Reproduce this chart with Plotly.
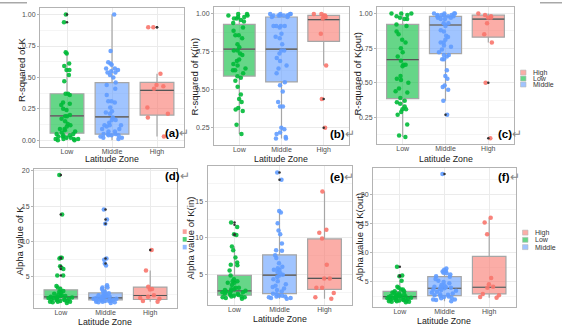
import plotly.graph_objects as go

W, H = 562, 332
categories = ["Low", "Middle", "High"]
legend_labels = ["High", "Low", "Middle"]
x_title = "Latitude Zone"
y_titles = ["R-squared of K", "R-squared of K(in)", "R-squared of K(out)",
            "Alpha value of K", "Alpha value of K(in)", "Alpha value of K(out)"]
panel_tags = ["(a)", "(b)", "(c)", "(d)", "(e)", "(f)"]

# ---------------- (a) R-squared of K ----------------
a_low = [1.00, 0.94, 0.70, 0.69, 0.61, 0.59, 0.56, 0.56, 0.52, 0.47, 0.37, 0.37, 0.36, 0.30, 0.29,
         0.28, 0.25, 0.24, 0.20, 0.19, 0.19, 0.17, 0.15, 0.13, 0.12, 0.09, 0.09, 0.08, 0.07, 0.06,
         0.05, 0.05, 0.04, 0.03, 0.03, 0.02, 0.02, 0.01, 0.01, 0.01, 0.00, 0.00, 0.01, 0.04, 0.11]
a_mid = [1.00, 0.71, 0.62, 0.61, 0.60, 0.57, 0.57, 0.56, 0.55, 0.54, 0.54, 0.52, 0.50, 0.46, 0.44,
         0.41, 0.36, 0.31, 0.31, 0.30, 0.26, 0.23, 0.22, 0.21, 0.18, 0.16, 0.16, 0.14, 0.12, 0.12,
         0.12, 0.11, 0.09, 0.09, 0.07, 0.07, 0.05, 0.05, 0.05, 0.04, 0.04, 0.04, 0.03, 0.02, 0.02, 0.01]
a_high = [0.90, 0.90, 0.53, 0.44, 0.43, 0.41, 0.26, 0.21, 0.18, 0.03]
a_q1 = [0.056, 0.048, 0.200]
a_med = [0.193, 0.185, 0.397]
a_q3 = [0.370, 0.458, 0.460]
a_lo = [0.00, 0.00, 0.03]
a_hi = [0.70, 1.00, 0.53]
a_out = [[1.00, 0.94], [], [0.90, 0.90]]

# ---------------- (b) R-squared of K(in) ----------------
b_low = [1.00, 1.00, 0.99, 0.99, 0.98, 0.98, 0.97, 0.97, 0.96, 0.95, 0.94, 0.91, 0.89, 0.86, 0.86,
         0.84, 0.80, 0.78, 0.76, 0.76, 0.74, 0.73, 0.70, 0.69, 0.67, 0.66, 0.64, 0.63, 0.63, 0.61,
         0.59, 0.58, 0.56, 0.52, 0.47, 0.44, 0.42, 0.38, 0.37, 0.36, 0.27, 0.21]
b_mid = [1.00, 1.00, 1.00, 0.99, 0.99, 0.99, 0.99, 0.99, 1.00, 0.99, 0.98, 0.98, 0.92, 0.92, 0.92,
         0.92, 0.91, 0.87, 0.85, 0.84, 0.80, 0.76, 0.76, 0.74, 0.71, 0.69, 0.66, 0.64, 0.61, 0.55,
         0.53, 0.49, 0.42, 0.39, 0.39, 0.25, 0.24, 0.22, 0.21, 0.19, 0.18, 0.18]
b_high = [1.00, 1.00, 0.99, 0.99, 0.98, 0.97, 0.87, 0.66, 0.44, 0.25]
b_q1 = [0.591, 0.552, 0.820]
b_med = [0.768, 0.768, 0.963]
b_q3 = [0.932, 0.980, 0.991]
b_lo = [0.21, 0.18, 0.66]
b_hi = [1.00, 1.00, 1.00]
b_out = [[], [], [0.44, 0.25]]

# ---------------- (c) R-squared of K(out) ----------------
c_low = [1.00, 1.00, 1.00, 0.99, 0.98, 0.97, 0.96, 0.96, 0.92, 0.91, 0.87, 0.85, 0.81, 0.79, 0.75,
         0.72, 0.69, 0.66, 0.63, 0.63, 0.62, 0.55, 0.53, 0.52, 0.50, 0.46, 0.44, 0.43, 0.39, 0.37,
         0.36, 0.35, 0.33, 0.31, 0.31, 0.29, 0.27, 0.20, 0.12, 0.11]
c_mid = [1.00, 1.00, 1.00, 1.00, 0.99, 0.99, 0.99, 0.99, 0.98, 0.98, 0.98, 0.97, 0.97, 0.96, 0.96,
         0.93, 0.93, 0.91, 0.88, 0.87, 0.84, 0.83, 0.81, 0.79, 0.79, 0.77, 0.76, 0.74, 0.72, 0.70,
         0.70, 0.69, 0.67, 0.67, 0.59, 0.55, 0.53, 0.48, 0.47, 0.45, 0.37, 0.27]
c_high = [1.00, 0.99, 0.98, 0.97, 0.97, 0.93, 0.85, 0.79, 0.50, 0.10]
c_q1 = [0.386, 0.710, 0.829]
c_med = [0.667, 0.917, 0.960]
c_q3 = [0.921, 0.979, 0.988]
c_lo = [0.11, 0.37, 0.79]
c_hi = [1.00, 1.00, 1.00]
c_out = [[], [0.27], [0.50, 0.10]]

# ---------------- (d) Alpha value of K ----------------
d_low = [19.4, 13.8, 7.7, 7.7, 7.6, 6.5, 6.3, 6.1, 5.2, 5.2, 3.7, 3.5, 3.3, 2.9, 2.8, 2.6, 2.5,
         2.3, 2.3, 2.2, 2.1, 2.1, 2.0, 1.9, 1.9, 1.8, 1.7, 1.6, 1.6, 1.5, 1.5, 1.4, 1.3, 2.0, 2.4,
         1.8, 1.7, 2.2, 3.0, 1.5]
d_mid = [14.5, 13.1, 12.5, 7.6, 7.4, 6.9, 6.6, 3.8, 3.5, 3.5, 3.3, 3.0, 2.7, 2.5, 2.3, 2.3, 2.2,
         2.0, 2.0, 1.9, 1.8, 1.8, 1.7, 1.6, 1.6, 1.5, 1.4, 1.4, 1.9, 2.1, 1.7, 2.4, 1.5, 1.6, 2.6,
         1.8, 2.9, 1.3, 2.2, 1.9]
d_high = [8.8, 5.9, 3.6, 3.3, 3.2, 2.4, 2.2, 2.0, 1.9, 1.6, 1.5]
d_q1 = [1.90, 1.76, 1.80]
d_med = [2.18, 2.04, 2.37]
d_q3 = [3.17, 2.75, 3.55]
d_lo = [1.3, 1.3, 1.5]
d_hi = [3.7, 3.8, 5.9]
d_out = [[19.4, 13.8, 7.7, 7.6, 6.5, 6.1, 5.2], [14.5, 13.1, 12.5, 7.6, 6.9], [8.8]]

# ---------------- (e) Alpha value of K(in) ----------------
e_low = [12.1, 11.5, 10.5, 10.4, 8.8, 8.3, 7.3, 6.6, 6.3, 6.2, 5.5, 4.8, 4.3, 4.0, 4.0, 3.8, 3.8,
         3.5, 3.1, 3.1, 2.9, 2.9, 2.7, 2.7, 2.5, 2.5, 2.3, 2.3, 2.1, 2.1, 1.9, 1.9, 1.8, 1.8, 1.6,
         2.6, 2.0, 1.7, 2.4, 2.8]
e_mid = [19.0, 18.0, 13.7, 13.5, 12.0, 11.0, 10.5, 9.2, 8.3, 8.2, 7.2, 6.5, 6.0, 5.6, 5.6, 5.3,
         5.1, 4.9, 4.6, 4.3, 4.0, 3.6, 3.4, 3.2, 3.0, 2.8, 2.6, 2.3, 2.0, 2.0, 1.9, 1.9, 1.8, 1.7,
         1.7, 1.6, 5.8, 4.8, 2.2, 7.6]
e_high = [16.4, 11.1, 10.7, 9.9, 6.3, 4.4, 4.4, 3.1, 3.1, 2.4, 1.8, 1.6]
e_q1 = [2.08, 2.31, 2.90]
e_med = [2.67, 4.86, 4.40]
e_q3 = [4.82, 7.65, 9.84]
e_lo = [1.6, 1.6, 1.6]
e_hi = [8.8, 13.7, 16.4]
e_out = [[12.1, 11.8, 10.5, 10.4], [19.0, 18.0], []]

# ---------------- (f) Alpha value of K(out) ----------------
f_low = [7.6, 6.1, 6.0, 5.2, 4.2, 4.0, 3.7, 3.7, 3.4, 3.4, 3.0, 3.2, 2.9, 2.8, 2.7, 2.6, 2.6,
         2.5, 2.5, 2.4, 2.4, 2.3, 2.3, 2.2, 2.2, 2.1, 2.1, 2.0, 2.0, 1.9, 1.9, 1.8, 1.8, 1.7,
         1.7, 1.6, 1.6, 1.5, 2.5, 3.1]
f_mid = [23.5, 7.3, 7.1, 6.9, 6.6, 6.3, 6.0, 5.5, 5.2, 4.8, 4.5, 4.2, 4.2, 3.8, 3.5, 3.2, 2.9,
         2.6, 2.3, 2.0, 2.0, 1.7, 3.9, 4.0, 3.6, 2.8, 2.5, 5.9, 6.5, 3.3, 2.7, 4.4, 1.9, 2.2,
         3.0, 5.0, 3.7, 2.4, 6.8, 4.1]
f_high = [16.0, 15.2, 13.2, 5.7, 4.6, 4.2, 4.0, 2.95, 2.7, 2.4, 2.3]
f_q1 = [2.10, 2.67, 2.95]
f_med = [2.50, 3.92, 4.09]
f_q3 = [3.40, 5.90, 9.40]
f_lo = [1.5, 1.7, 2.3]
f_hi = [5.2, 7.3, 16.0]
f_out = [[7.6, 6.1, 6.0], [23.5], []]

# axis ticks / ranges
rsq_ticks = [0.00, 0.25, 0.50, 0.75, 1.00]
alpha_ticks = [5, 10, 15, 20]

panels = [
    dict(pts=[a_low, a_mid, a_high], q1=a_q1, med=a_med, q3=a_q3, lo=a_lo, hi=a_hi, out=a_out,
         yr=[-0.055, 1.053], ticks=rsq_ticks, fmt=".2f", minor=0.125,
         box=(40, 184, 6, 146)),
    dict(pts=[b_low, b_mid, b_high], q1=b_q1, med=b_med, q3=b_q3, lo=b_lo, hi=b_hi, out=b_out,
         yr=[0.136, 1.046], ticks=rsq_ticks, fmt=".2f", minor=0.125,
         box=(214, 349, 5, 144)),
    dict(pts=[c_low, c_mid, c_high], q1=c_q1, med=c_med, q3=c_q3, lo=c_lo, hi=c_hi, out=c_out,
         yr=[0.058, 1.047], ticks=rsq_ticks, fmt=".2f", minor=0.125,
         box=(377, 514, 5, 143)),
    dict(pts=[d_low, d_mid, d_high], q1=d_q1, med=d_med, q3=d_q3, lo=d_lo, hi=d_hi, out=d_out,
         yr=[0.58, 20.24], ticks=alpha_ticks, fmt="d", minor=2.5,
         box=(34, 177, 168, 308)),
    dict(pts=[e_low, e_mid, e_high], q1=e_q1, med=e_med, q3=e_q3, lo=e_lo, hi=e_hi, out=e_out,
         yr=[0.71, 19.9], ticks=alpha_ticks, fmt="d", minor=2.5,
         box=(207.5, 351.5, 165, 305)),
    dict(pts=[f_low, f_mid, f_high], q1=f_q1, med=f_med, q3=f_q3, lo=f_lo, hi=f_hi, out=f_out,
         yr=[0.68, 24.55], ticks=alpha_ticks, fmt="d", minor=2.5,
         box=(373, 516, 167, 307)),
]

point_col = {"Low": "#00BA38", "Middle": "#619CFF", "High": "#F8766D"}
fill_col = {"Low": "rgba(0,186,56,0.6)", "Middle": "rgba(97,156,255,0.6)", "High": "rgba(248,118,109,0.6)"}

def px(x):
    return x / W

def py(y):
    return 1 - y / H

fig = go.Figure()
layout = dict(width=W, height=H, margin=dict(l=0, r=0, t=0, b=0),
              paper_bgcolor="white", plot_bgcolor="white", showlegend=False,
              boxmode="overlay", font=dict(family="Liberation Sans", color="#4d4d4d"))
annotations = []
shapes = []

for i, p in enumerate(panels):
    n = i + 1
    xa = "x" if n == 1 else f"x{n}"
    ya = "y" if n == 1 else f"y{n}"
    x0, x1, y0, y1 = p["box"]
    for j, cat in enumerate(categories):
        fig.add_trace(go.Box(x=[cat], q1=[p["q1"][j]], median=[p["med"][j]], q3=[p["q3"][j]],
                             lowerfence=[p["lo"][j]], upperfence=[p["hi"][j]],
                             fillcolor=fill_col[cat], line=dict(color="#a6a6a6", width=1.2),
                             whiskerwidth=0, width=0.75, boxpoints=False, hoverinfo="skip",
                             xaxis=xa, yaxis=ya))
        m = p["med"][j]
        fig.add_trace(go.Box(x=[cat], q1=[m], median=[m], q3=[m], lowerfence=[m], upperfence=[m],
                             fillcolor="rgba(0,0,0,0)", line=dict(color="#555555", width=1.2),
                             whiskerwidth=0, width=0.75, boxpoints=False, hoverinfo="skip",
                             xaxis=xa, yaxis=ya))
    for j, cat in enumerate(categories):
        if p["out"][j]:
            fig.add_trace(go.Scatter(x=[cat] * len(p["out"][j]), y=p["out"][j], mode="markers",
                                     marker=dict(color="#333333", size=2.5), hoverinfo="skip",
                                     xaxis=xa, yaxis=ya))
    for j, cat in enumerate(categories):
        vals = p["pts"][j]
        fig.add_trace(go.Box(x=[cat] * len(vals), y=vals, boxpoints="all", jitter=0.85, pointpos=0,
                             fillcolor="rgba(0,0,0,0)", line=dict(width=0, color="rgba(0,0,0,0)"),
                             marker=dict(color=point_col[cat], size=4.5, opacity=0.9),
                             width=0.75, hoverinfo="skip", xaxis=xa, yaxis=ya))

    axis_common = dict(showline=True, mirror=True, linecolor="#b3b3b3", linewidth=1,
                       gridcolor="#ebebeb", gridwidth=1, zeroline=False,
                       tickfont=dict(size=7, color="#4d4d4d", family="Liberation Sans"))
    layout["xaxis" if n == 1 else f"xaxis{n}"] = dict(
        axis_common, domain=[px(x0), px(x1)], anchor=ya, type="category",
        categoryorder="array", categoryarray=categories, range=[-0.6, 2.6], ticks="",
        ticklabelstandoff=-3)
    layout["yaxis" if n == 1 else f"yaxis{n}"] = dict(
        axis_common, domain=[py(y1), py(y0)], anchor=xa, range=p["yr"],
        ticks="outside", ticklen=2, tickcolor="#b3b3b3",
        tickvals=p["ticks"], tickformat=p["fmt"],
        minor=dict(showgrid=True, gridcolor="#f5f5f5", dtick=p["minor"], tick0=0, ticks=""))

# axis titles
x_title_pos = [(112, 158), (281, 158), (446, 158), (105, 322), (280, 319), (444, 321)]
y_title_pos = [(21.5, 68), (195, 75), (358, 72), (20, 240), (191, 238), (360, 237)]
tag_pos = [(163, 132), (328, 133), (496, 133), (163, 175), (328, 176), (496, 176)]
for k in range(6):
    xt, yt = x_title_pos[k]
    annotations.append(dict(text=x_title, x=px(xt), y=py(yt), xref="paper", yref="paper",
                            showarrow=False, xanchor="center", yanchor="middle",
                            font=dict(size=8.8, color="#222222", family="Liberation Sans")))
    xt, yt = y_title_pos[k]
    annotations.append(dict(text=y_titles[k], x=px(xt), y=py(yt), xref="paper", yref="paper",
                            showarrow=False, xanchor="center", yanchor="middle", textangle=-90,
                            font=dict(size=9.5, color="#222222", family="Liberation Sans")))
    xt, yt = tag_pos[k]
    annotations.append(dict(text="<b>" + panel_tags[k] + "</b><span style='color:#888888'>↵</span>",
                            x=px(xt), y=py(yt), xref="paper", yref="paper",
                            showarrow=False, xanchor="left", yanchor="middle",
                            font=dict(size=11.5, color="#000000", family="Liberation Sans")))

# manual legends
legend_specs = [(520.5, 71, 6.0, 530.5), (522.5, 232, 7.3, 532.5)]
for lx, ly, step, tx in legend_specs:
    for r, lab in enumerate(legend_labels):
        cy = ly + r * step
        shapes.append(dict(type="rect", xref="paper", yref="paper",
                           x0=px(lx), x1=px(lx + 5.5), y0=py(cy + 2.5), y1=py(cy - 2.5),
                           fillcolor=fill_col[lab], line=dict(color="#bbbbbb", width=0.6)))
        annotations.append(dict(text=lab, x=px(tx), y=py(cy), xref="paper", yref="paper",
                                showarrow=False, xanchor="left", yanchor="middle",
                                font=dict(size=7, color="#333333", family="Liberation Sans")))

# cut-off legend keys and frame remnants of the pasted images
for r, lab in enumerate(legend_labels):
    cy = 231 + r * 7.8
    shapes.append(dict(type="rect", xref="paper", yref="paper",
                       x0=px(182.7), x1=px(186.7), y0=py(cy + 2.3), y1=py(cy - 2.3),
                       fillcolor=point_col[lab], opacity=0.7, line=dict(width=0)))
shapes.append(dict(type="rect", xref="paper", yref="paper", x0=0, x1=px(27), y0=py(1.5), y1=1,
                   fillcolor="#a8a8a8", line=dict(width=0)))
shapes.append(dict(type="rect", xref="paper", yref="paper", x0=px(540), x1=1, y0=py(1.5), y1=1,
                   fillcolor="#a8a8a8", line=dict(width=0)))

layout["annotations"] = annotations
layout["shapes"] = shapes
fig.update_layout(**layout)
fig.write_html("out.html")
